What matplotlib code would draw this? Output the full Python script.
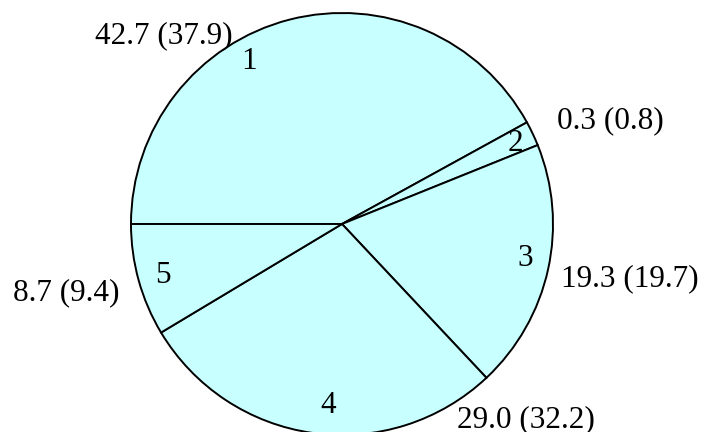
import matplotlib
matplotlib.use("Agg")
import matplotlib.pyplot as plt

# slice sizes (percent of the circle)
slice_ids = ["1", "2", "3", "4", "5"]
slice_sizes = [42.0, 1.9, 19.1, 28.4, 8.6]
outer_labels = ["42.7 (37.9)", "0.3 (0.8)", "19.3 (19.7)", "29.0 (32.2)", "8.7 (9.4)"]

# label placements (pixel positions in the 702x432 image: x centre, baseline y)
inner_pos = [(249, 69), (515, 151), (525, 266), (328, 413), (163, 283)]
outer_pos = [(164, 43), (610, 128), (630, 286), (526, 427), (66, 300)]

W, H = 702, 432
CX, CY, R = 342, 224, 211

fig = plt.figure(figsize=(W / 100, H / 100), dpi=100)
ax = fig.add_axes([0, 0, 1, 1])
ax.axis("off")

ax.pie(slice_sizes, startangle=180, counterclock=False, radius=1.0,
       colors=["#C8FFFF"] * len(slice_sizes),
       wedgeprops=dict(edgecolor="black", linewidth=1.4))
ax.set_xlim(-CX / R, (W - CX) / R)
ax.set_ylim(-(H - CY) / R, CY / R)
ax.set_aspect("auto")


def to_data(px, py):
    return (px - CX) / R, (CY - py) / R


font = dict(family="Liberation Serif", fontsize=22.5, color="black")
for lab, (px, py) in zip(slice_ids, inner_pos):
    x, y = to_data(px, py)
    ax.text(x, y, lab, ha="center", va="baseline", **font)
for lab, (px, py) in zip(outer_labels, outer_pos):
    x, y = to_data(px, py)
    ax.text(x, y, lab, ha="center", va="baseline", **font)

fig.savefig("out.png", dpi=100)
